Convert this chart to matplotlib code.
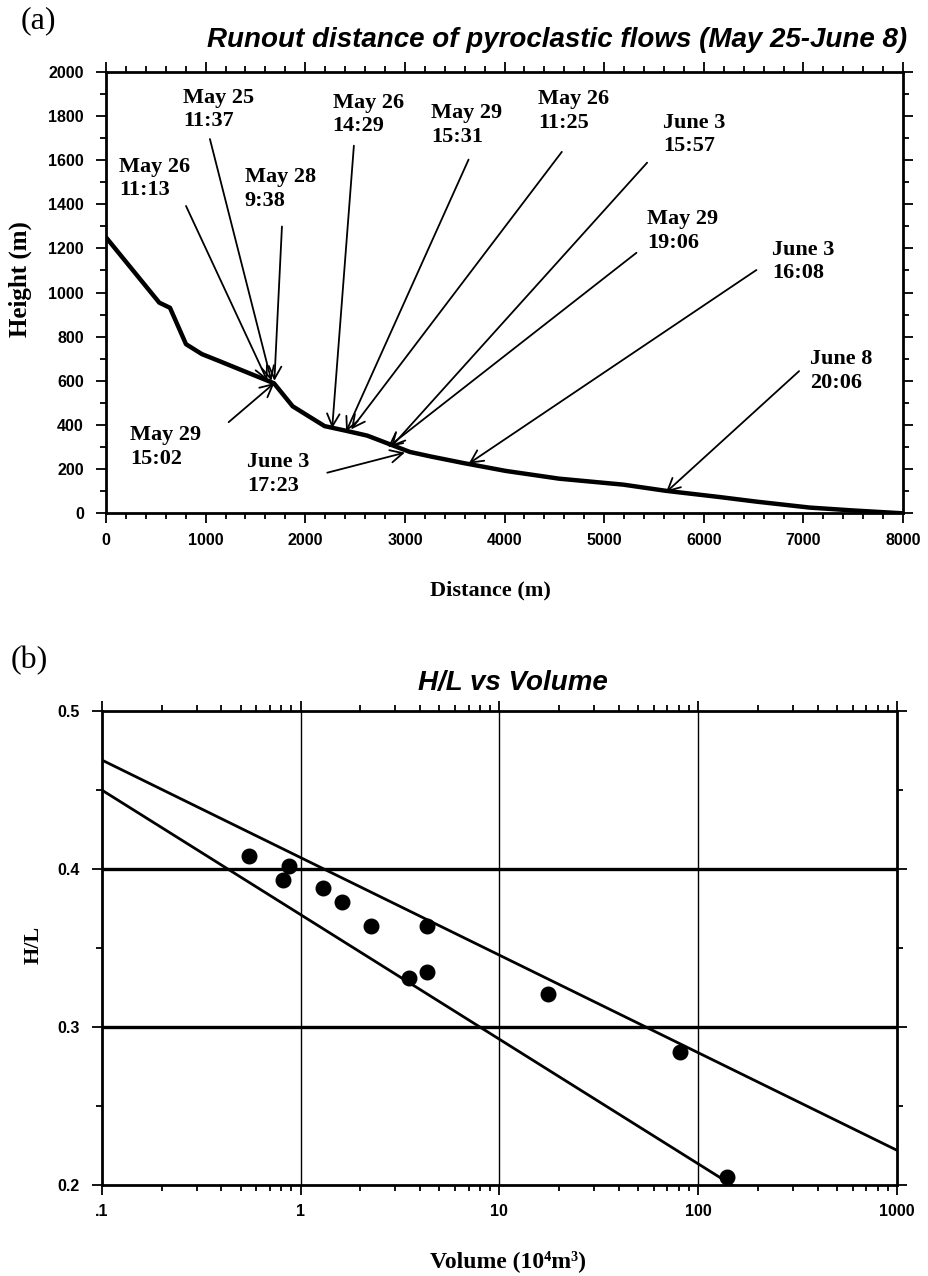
import matplotlib
matplotlib.use('Agg')
import matplotlib.pyplot as plt
from matplotlib.ticker import MultipleLocator, FixedLocator, FixedFormatter, LogLocator, NullFormatter

# ---- panel (a): valley profile and flow fronts ----
dist = [0, 535, 642, 803, 963, 1124, 1445, 1686, 1873, 2033, 2194, 2408, 2622,
        2836, 3050, 3264, 3585, 4013, 4548, 5191, 5619, 6154, 6528, 7064, 7500, 8000]
height = [1250, 954, 931, 766, 721, 692, 633, 589, 485, 440, 395, 374, 352,
          315, 278, 257, 228, 192, 157, 130, 102, 74, 53, 26, 13, 0]

flow_labels = ['May 25\n11:37', 'May 26\n11:13', 'May 28\n9:38', 'May 29\n15:02',
               'May 26\n14:29', 'May 29\n15:31', 'May 26\n11:25', 'June 3\n15:57',
               'May 29\n19:06', 'June 3\n16:08', 'June 8\n20:06', 'June 3\n17:23']
label_x = [776, 134, 1391, 241, 2274, 3264, 4334, 5592, 5431, 6689, 7063, 1418]
label_y = [1928, 1616, 1569, 401, 1905, 1857, 1922, 1815, 1377, 1239, 743, 278]
tail_x = [1043, 803, 1766, 1231, 2488, 3639, 4575, 5431, 5324, 6528, 6956, 2221]
tail_y = [1695, 1392, 1299, 413, 1665, 1602, 1637, 1588, 1180, 1102, 644, 184]
tip_x = [1660, 1620, 1690, 1690, 2270, 2410, 2460, 2860, 2830, 3640, 5620, 3000]
tip_y = [600, 600, 600, 590, 385, 370, 380, 300, 300, 225, 95, 275]

# ---- panel (b): H/L against volume ----
volume = [0.55, 0.82, 0.88, 1.29, 1.62, 2.25, 3.52, 4.32, 4.32, 17.6, 81, 140]
hl = [0.408, 0.393, 0.402, 0.388, 0.379, 0.364, 0.331, 0.364, 0.335, 0.321, 0.284, 0.205]
upper_v = [0.1, 1000]
upper_hl = [0.469, 0.222]
lower_v = [0.1, 148]
lower_hl = [0.45, 0.2]

serif = ['Liberation Serif', 'DejaVu Serif']
sans = ['Liberation Sans', 'DejaVu Sans']

fig = plt.figure(figsize=(9.29, 12.76), dpi=100)

ax1 = fig.add_axes([0.1141, 0.5977, 0.858, 0.3461])
ax1.plot(dist, height, color='black', lw=3.2, solid_joinstyle='round')
for i in range(len(flow_labels)):
    ax1.text(label_x[i], label_y[i], flow_labels[i], ha='left', va='top',
             family=serif, weight='bold', fontsize=16, linespacing=1.25)
    ax1.annotate('', xy=(tip_x[i], tip_y[i]), xytext=(tail_x[i], tail_y[i]),
                 arrowprops=dict(arrowstyle='->,head_length=0.6,head_width=0.3',
                                 lw=1.3, color='black', shrinkA=0, shrinkB=0,
                                 mutation_scale=15))
ax1.set_xlim(0, 8000)
ax1.set_ylim(0, 2000)
ax1.xaxis.set_major_locator(MultipleLocator(1000))
ax1.xaxis.set_minor_locator(MultipleLocator(200))
ax1.yaxis.set_major_locator(MultipleLocator(200))
ax1.yaxis.set_minor_locator(MultipleLocator(100))
ax1.set_xlabel('Distance (m)', family=serif, weight='bold', fontsize=16)
ax1.set_ylabel('Height (m)', family=serif, weight='bold', fontsize=18)
ax1.xaxis.set_label_coords(0.482, -0.152)
ax1.yaxis.set_label_coords(-0.093, 0.53)

ax2 = fig.add_axes([0.1095, 0.0713, 0.856, 0.3715])
ax2.set_xscale('log')
ax2.plot(upper_v, upper_hl, color='black', lw=2)
ax2.plot(lower_v, lower_hl, color='black', lw=2)
ax2.scatter(volume, hl, s=110, color='black', zorder=3, clip_on=False)
ax2.set_xlim(0.1, 1000)
ax2.set_ylim(0.2, 0.5)
ax2.xaxis.set_major_locator(FixedLocator([0.1, 1, 10, 100, 1000]))
ax2.xaxis.set_major_formatter(FixedFormatter(['.1', '1', '10', '100', '1000']))
ax2.xaxis.set_minor_locator(LogLocator(base=10, subs=range(2, 10)))
ax2.xaxis.set_minor_formatter(NullFormatter())
ax2.yaxis.set_major_locator(FixedLocator([0.2, 0.3, 0.4, 0.5]))
ax2.yaxis.set_major_formatter(FixedFormatter(['0.2', '0.3', '0.4', '0.5']))
ax2.yaxis.set_minor_locator(MultipleLocator(0.05))
for v in [1, 10, 100]:
    ax2.axvline(v, color='black', lw=1)
for h in [0.3, 0.4]:
    ax2.axhline(h, color='black', lw=2.4)
ax2.set_xlabel('Volume (10\u2074m\u00b3)', family=serif, weight='bold', fontsize=17)
ax2.set_ylabel('H/L', family=serif, weight='bold', fontsize=16)
ax2.xaxis.set_label_coords(0.511, -0.137)
ax2.yaxis.set_label_coords(-0.0725, 0.506)

for ax in (ax1, ax2):
    for sp in ax.spines.values():
        sp.set_linewidth(2)
    ax.tick_params(which='both', direction='out', top=True, right=True, width=1.3)
    ax.tick_params(which='major', length=7)
    ax.tick_params(which='minor', length=4)
    ax.tick_params(axis='y', which='major', pad=9)
    ax.tick_params(axis='x', which='major', pad=7)
    for lab in ax.get_xticklabels() + ax.get_yticklabels():
        lab.set_family(sans)
        lab.set_weight('bold')
        lab.set_fontsize(11.5)

# panel titles and letters
fig.text(557 / 929, 1 - 40 / 1276, 'Runout distance of pyroclastic flows (May 25-June 8)',
         family=sans, weight='bold', style='italic', fontsize=20, ha='center', va='center')
fig.text(513 / 929, 1 - 683 / 1276, 'H/L vs Volume',
         family=sans, weight='bold', style='italic', fontsize=20, ha='center', va='center')
fig.text(0.041, 0.984, '(a)', family=serif, fontsize=23, ha='center', va='center')
fig.text(0.031, 0.482, '(b)', family=serif, fontsize=23, ha='center', va='center')

fig.savefig('out.png', dpi=100)
